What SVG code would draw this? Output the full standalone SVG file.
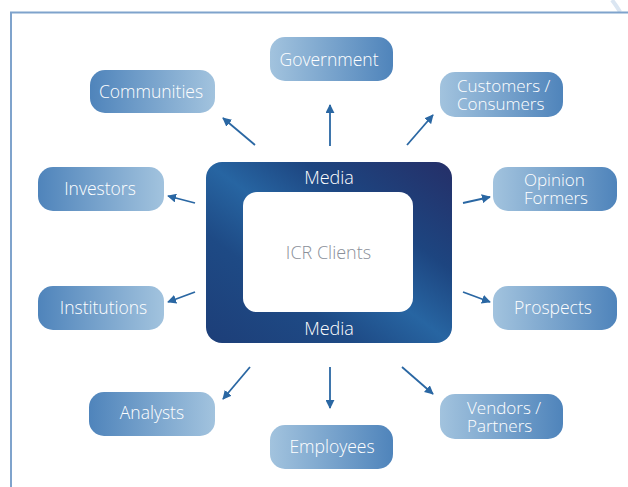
<svg xmlns="http://www.w3.org/2000/svg" width="628" height="487" viewBox="0 0 628 487">
<defs>
<linearGradient id="gDL" x1="0" y1="0" x2="1" y2="0"><stop offset="0" stop-color="#4f84bb"/><stop offset="1" stop-color="#a2c3de"/></linearGradient>
<linearGradient id="gLD" x1="0" y1="0" x2="1" y2="0"><stop offset="0" stop-color="#a2c3de"/><stop offset="1" stop-color="#4f84bb"/></linearGradient>
<linearGradient id="gMedia" x1="1" y1="0" x2="0" y2="1"><stop offset="0" stop-color="#252f68"/><stop offset="0.3" stop-color="#1d4580"/><stop offset="0.5" stop-color="#2765a2"/><stop offset="0.7" stop-color="#1e4a85"/><stop offset="1" stop-color="#1d3e78"/></linearGradient>
<marker id="ah" viewBox="0 0 10 10" refX="9" refY="5" markerWidth="5" markerHeight="5" markerUnits="strokeWidth" orient="auto"><path d="M0,0 L10,5 L0,10 Z" fill="#2a67a3"/></marker>
<style>
.n{stroke:none}
.t{font-family:"Open Sans","Liberation Sans",sans-serif;font-size:17.5px;font-weight:300;fill:#ffffff;text-anchor:middle}
.tl{font-family:"Open Sans","Liberation Sans",sans-serif;font-size:17px;font-weight:300;fill:#ffffff}
.c{fill:none;stroke:#2a67a3;stroke-width:1.8;marker-end:url(#ah)}
</style>
</defs>
<rect width="628" height="487" fill="#ffffff"/>
<path d="M612,0 Q618,8 620,12" fill="none" stroke="#dbe6f2" stroke-width="4"/>
<path d="M628,12.5 H11 V487" fill="none" stroke="#7fa3cc" stroke-width="2"/>
<g id="media">
<rect x="206" y="162" width="246" height="181" rx="16" fill="url(#gMedia)"/>
<rect x="243" y="192" width="170" height="120" rx="14" fill="#ffffff"/>
<text class="t" x="329" y="183.5" style="font-size:18px">Media</text>
<text class="t" x="329" y="334.5" style="font-size:18px">Media</text>
<text class="t" x="328.5" y="258.5" style="fill:#8a8f99;font-size:18px">ICR Clients</text>
</g>
<g id="government"><rect class="n" x="270" y="37" width="123" height="44" rx="15" fill="url(#gLD)"/><text class="t" x="329" y="65.5">Government</text></g>
<g id="communities"><rect class="n" x="90" y="70" width="125" height="43" rx="15" fill="url(#gDL)"/><text class="t" x="151" y="97.5">Communities</text></g>
<g id="customers"><rect class="n" x="440" y="72" width="123" height="45" rx="15" fill="url(#gLD)"/><text class="tl" x="457" y="92">Customers /<tspan x="457" dy="18">Consumers</tspan></text></g>
<g id="investors"><rect class="n" x="38" y="167" width="126" height="44" rx="15" fill="url(#gDL)"/><text class="t" x="100" y="194.5">Investors</text></g>
<g id="opinion"><rect class="n" x="493" y="167" width="124" height="44" rx="15" fill="url(#gLD)"/><text class="tl" x="524" y="186">Opinion<tspan x="524" dy="18">Formers</tspan></text></g>
<g id="institutions"><rect class="n" x="38" y="286" width="126" height="44" rx="15" fill="url(#gDL)"/><text class="t" x="103.5" y="313.5">Institutions</text></g>
<g id="prospects"><rect class="n" x="493" y="286" width="124" height="44" rx="15" fill="url(#gLD)"/><text class="t" x="553" y="313.5">Prospects</text></g>
<g id="analysts"><rect class="n" x="89" y="392" width="126" height="44" rx="15" fill="url(#gDL)"/><text class="t" x="152" y="418.5">Analysts</text></g>
<g id="employees"><rect class="n" x="270" y="425" width="123" height="44" rx="15" fill="url(#gLD)"/><text class="t" x="332" y="452.5">Employees</text></g>
<g id="vendors"><rect class="n" x="440" y="394" width="123" height="45" rx="15" fill="url(#gLD)"/><text class="tl" x="467" y="414">Vendors /<tspan x="467" dy="18">Partners</tspan></text></g>
<g id="connectors">
<line class="c" x1="330" y1="146" x2="330" y2="105"/>
<line class="c" x1="255" y1="145" x2="223" y2="118"/>
<line class="c" x1="407" y1="145" x2="433" y2="115"/>
<line class="c" x1="195" y1="203" x2="168" y2="196"/>
<line class="c" x1="195" y1="292" x2="168" y2="302"/>
<line class="c" x1="463" y1="203" x2="490" y2="197"/>
<line class="c" x1="463" y1="292" x2="490" y2="302"/>
<line class="c" x1="250" y1="367" x2="223" y2="399"/>
<line class="c" x1="330" y1="367" x2="330" y2="408"/>
<line class="c" x1="402" y1="367" x2="433" y2="394"/>
</g>
</svg>
